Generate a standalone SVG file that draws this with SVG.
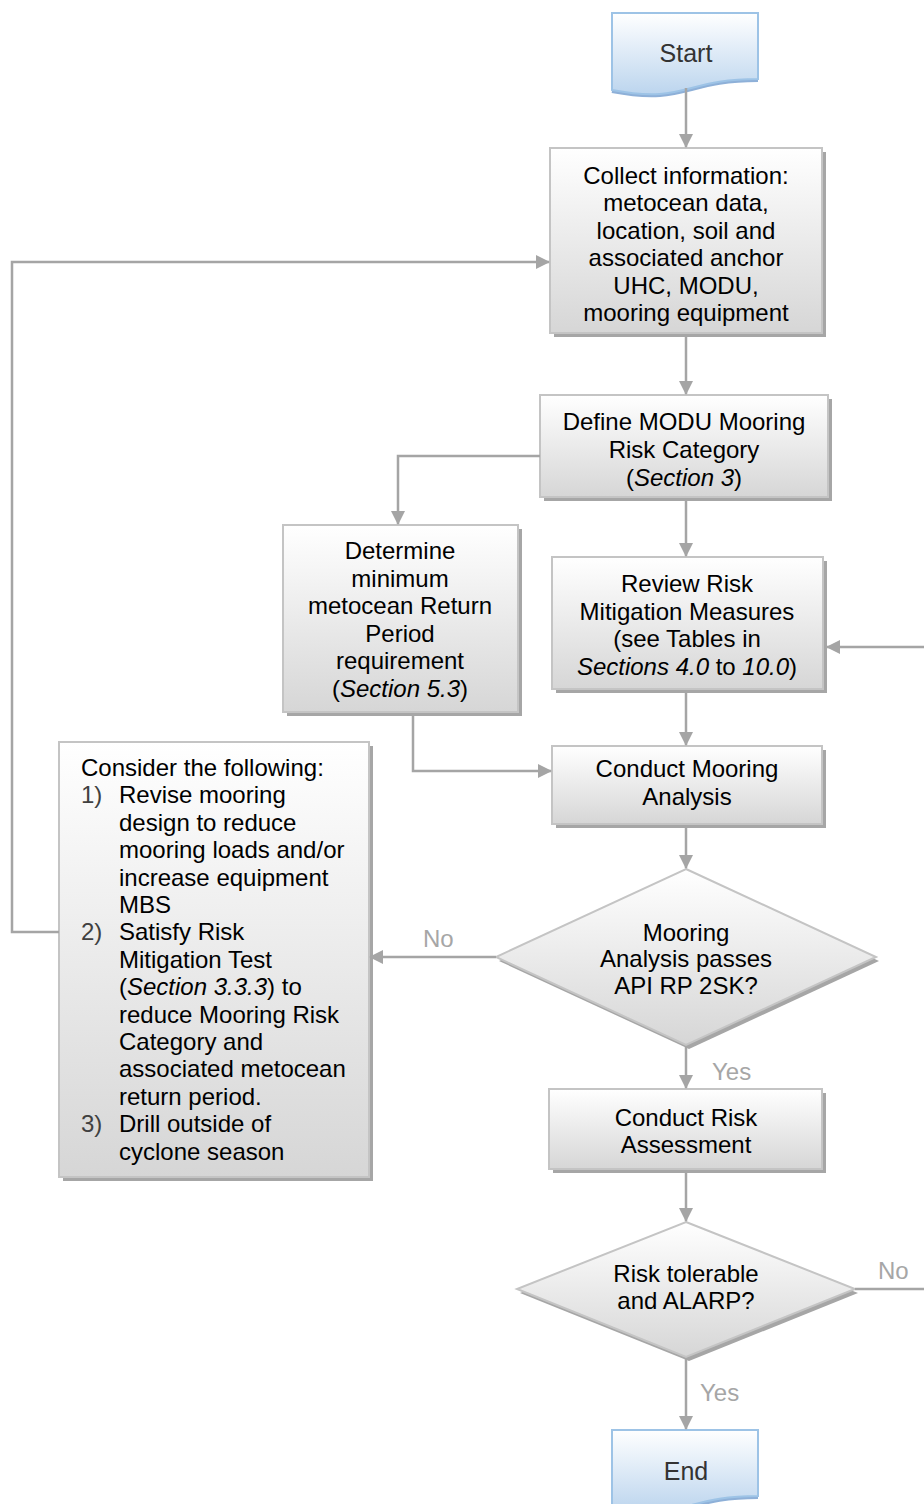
<svg xmlns="http://www.w3.org/2000/svg" width="924" height="1504" viewBox="0 0 924 1504">
<defs>
<linearGradient id="gg" x1="0" y1="0" x2="0" y2="1"><stop offset="0" stop-color="#ffffff"/><stop offset="1" stop-color="#d6d6d6"/></linearGradient>
<linearGradient id="bg" x1="0" y1="0" x2="0" y2="1"><stop offset="0" stop-color="#ffffff"/><stop offset="1" stop-color="#bcd5ee"/></linearGradient>
<marker id="ah" markerUnits="userSpaceOnUse" markerWidth="14" markerHeight="14" refX="13" refY="7" orient="auto"><path d="M0,0 L14,7 L0,14 z" fill="#a5a5a5"/></marker>
<style>
.box{fill:url(#gg);stroke:#c4c4c4;stroke-width:2}
.sh{fill:#a6a6a6}
.doc{fill:url(#bg);stroke:#9dc3e6;stroke-width:2}
.docsh{fill:none;stroke:#8eb0d8;stroke-width:4}
.t{font-family:"Liberation Sans",Arial,sans-serif;font-size:24px;fill:#000;text-anchor:middle}
.tl{font-family:"Liberation Sans",Arial,sans-serif;font-size:24px;fill:#000}
.num{fill:#404040}
.se{font-family:"Liberation Sans",Arial,sans-serif;font-size:25px;fill:#333;text-anchor:middle}
.lb{font-family:"Liberation Sans",Arial,sans-serif;font-size:24px;fill:#a6a6a6}
.c{fill:none;stroke:#a5a5a5;stroke-width:2.5}
.i{font-style:italic}
</style>
</defs>

<g id="start">
<path class="docsh" d="M758,80 C685,80 685,105 612,91"/>
<path class="doc" d="M612,13 H758 V79 C685,79 685,104 612,90 Z"/>
<text class="se" x="686" y="62">Start</text>
</g>

<g id="collect">
<rect class="sh" x="554" y="152" width="272" height="185"/>
<rect class="box" x="550" y="148" width="272" height="185"/>
<text class="t" x="686" y="184">Collect information:</text>
<text class="t" x="686" y="211.4">metocean data,</text>
<text class="t" x="686" y="238.8">location, soil and</text>
<text class="t" x="686" y="266.2">associated anchor</text>
<text class="t" x="686" y="293.6">UHC, MODU,</text>
<text class="t" x="686" y="321">mooring equipment</text>
</g>

<g id="define">
<rect class="sh" x="544" y="399" width="288" height="102"/>
<rect class="box" x="540" y="395" width="288" height="102"/>
<text class="t" x="684" y="430">Define MODU Mooring</text>
<text class="t" x="684" y="458">Risk Category</text>
<text class="t" x="684" y="486">(<tspan class="i">Section 3</tspan>)</text>
</g>

<g id="determine">
<rect class="sh" x="287" y="529" width="235" height="187"/>
<rect class="box" x="283" y="525" width="235" height="187"/>
<text class="t" x="400" y="559">Determine</text>
<text class="t" x="400" y="586.5">minimum</text>
<text class="t" x="400" y="614">metocean Return</text>
<text class="t" x="400" y="641.5">Period</text>
<text class="t" x="400" y="669">requirement</text>
<text class="t" x="400" y="696.5">(<tspan class="i">Section 5.3</tspan>)</text>
</g>

<g id="review">
<rect class="sh" x="556" y="561" width="271" height="132"/>
<rect class="box" x="552" y="557" width="271" height="132"/>
<text class="t" x="687" y="592">Review Risk</text>
<text class="t" x="687" y="619.5">Mitigation Measures</text>
<text class="t" x="687" y="647">(see Tables in</text>
<text class="t" x="687" y="674.5"><tspan class="i">Sections 4.0</tspan> to <tspan class="i">10.0</tspan>)</text>
</g>

<g id="conduct-mooring">
<rect class="sh" x="556" y="750" width="270" height="78"/>
<rect class="box" x="552" y="746" width="270" height="78"/>
<text class="t" x="687" y="777">Conduct Mooring</text>
<text class="t" x="687" y="804.5">Analysis</text>
</g>

<g id="consider">
<rect class="sh" x="63" y="746" width="310" height="435"/>
<rect class="box" x="59" y="742" width="310" height="435"/>
<text class="tl" x="81" y="776">Consider the following:</text>
<text class="tl num" x="81" y="803.4">1)</text>
<text class="tl" x="119" y="803.4">Revise mooring</text>
<text class="tl" x="119" y="830.8">design to reduce</text>
<text class="tl" x="119" y="858.2">mooring loads and/or</text>
<text class="tl" x="119" y="885.6">increase equipment</text>
<text class="tl" x="119" y="913">MBS</text>
<text class="tl num" x="81" y="940.4">2)</text>
<text class="tl" x="119" y="940.4">Satisfy Risk</text>
<text class="tl" x="119" y="967.8">Mitigation Test</text>
<text class="tl" x="119" y="995.2">(<tspan class="i">Section 3.3.3</tspan>) to</text>
<text class="tl" x="119" y="1022.6">reduce Mooring Risk</text>
<text class="tl" x="119" y="1050">Category and</text>
<text class="tl" x="119" y="1077.4">associated metocean</text>
<text class="tl" x="119" y="1104.8">return period.</text>
<text class="tl num" x="81" y="1132.2">3)</text>
<text class="tl" x="119" y="1132.2">Drill outside of</text>
<text class="tl" x="119" y="1159.6">cyclone season</text>
</g>

<g id="decision-analysis">
<path class="sh" d="M689,873 L879,961 L689,1049 L499,961 Z"/>
<path class="box" d="M686,869 L876,957 L686,1045 L496,957 Z"/>
<text class="t" x="686" y="940.5">Mooring</text>
<text class="t" x="686" y="967">Analysis passes</text>
<text class="t" x="686" y="993.5">API RP 2SK?</text>
</g>

<g id="conduct-risk">
<rect class="sh" x="553" y="1093" width="273" height="80"/>
<rect class="box" x="549" y="1089" width="273" height="80"/>
<text class="t" x="686" y="1125.5">Conduct Risk</text>
<text class="t" x="686" y="1153">Assessment</text>
</g>

<g id="decision-risk">
<path class="sh" d="M689,1226 L858,1293 L689,1361 L520,1293 Z"/>
<path class="box" d="M686,1222 L855,1289 L686,1357 L517,1289 Z"/>
<text class="t" x="686" y="1281.5">Risk tolerable</text>
<text class="t" x="686" y="1309">and ALARP?</text>
</g>

<g id="end">
<path class="docsh" d="M758,1497 C685,1497 685,1522 612,1508"/>
<path class="doc" d="M612,1430 H758 V1496 C685,1496 685,1521 612,1507 Z"/>
<text class="se" x="686" y="1480">End</text>
</g>

<g id="connectors">
<path class="c" d="M686,88 V147" marker-end="url(#ah)"/>
<path class="c" d="M686,337 V394" marker-end="url(#ah)"/>
<path class="c" d="M540,456 H398 V524" marker-end="url(#ah)"/>
<path class="c" d="M686,501 V556" marker-end="url(#ah)"/>
<path class="c" d="M413,716 V771 H551" marker-end="url(#ah)"/>
<path class="c" d="M686,693 V745" marker-end="url(#ah)"/>
<path class="c" d="M924,647 H827" marker-end="url(#ah)"/>
<path class="c" d="M686,828 V868" marker-end="url(#ah)"/>
<path class="c" d="M496,957 H370" marker-end="url(#ah)"/>
<path class="c" d="M59,932 H12 V262 H549" marker-end="url(#ah)"/>
<path class="c" d="M686,1047 V1088" marker-end="url(#ah)"/>
<path class="c" d="M686,1173 V1221" marker-end="url(#ah)"/>
<path class="c" d="M855,1289 H924"/>
<path class="c" d="M686,1359 V1429" marker-end="url(#ah)"/>
<text class="lb" x="423" y="947">No</text>
<text class="lb" x="712" y="1080">Yes</text>
<text class="lb" x="878" y="1279">No</text>
<text class="lb" x="700" y="1401">Yes</text>
</g>
</svg>
